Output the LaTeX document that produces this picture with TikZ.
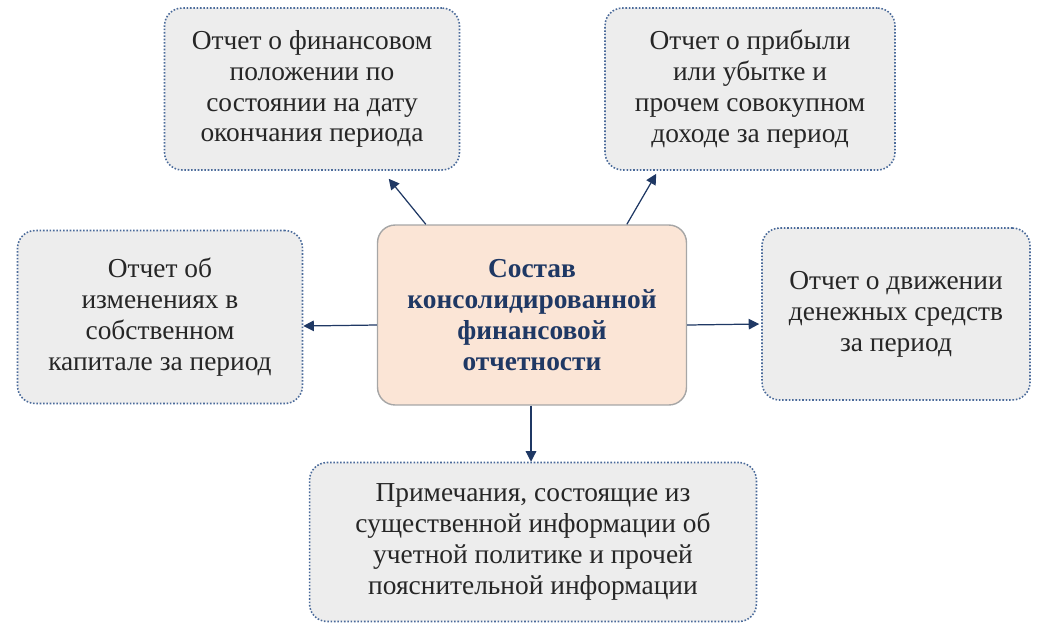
\documentclass[tikz,border=0pt]{standalone}
\usepackage{fontspec}
\setmainfont{Liberation Serif}
\usetikzlibrary{calc,arrows.meta}
\definecolor{navy}{HTML}{1F3864}
\definecolor{bord}{HTML}{4A6A9A}
\definecolor{gfill}{HTML}{EDEDED}
\definecolor{peach}{HTML}{FBE5D6}
\tikzset{
 box/.style={draw=bord,densely dotted,line width=0.9pt,fill=gfill,rounded corners=10pt,align=center,
   font=\fontsize{15.6}{17.6}\selectfont,inner sep=2pt,text=black!85},
 cbox/.style={draw=gray!70,line width=0.8pt,fill=peach,rounded corners=10pt,align=center,
   font=\bfseries\fontsize{15.6}{17.6}\selectfont,text=navy},
 arr/.style={draw=navy,line width=0.7pt,-{Triangle[length=6pt,width=6pt]}}
}
\begin{document}
\begin{tikzpicture}[x=0.02cm,y=-0.02cm]
\useasboundingbox (0,0) rectangle (1051,630);
\node[cbox,minimum width=6.18cm,minimum height=3.6cm] (c) at (532,315) {Состав\\консолидированной\\финансовой\\отчетности};
\node[box,minimum width=5.9cm,minimum height=3.24cm] (tl) at (312,89) {Отчет о финансовом\\положении по\\состоянии на дату\\окончания периода};
\node[box,minimum width=5.8cm,minimum height=3.24cm] (tr) at (750,89) {Отчет о прибыли\\или убытке и\\прочем совокупном\\доходе за период};
\node[box,minimum width=5.7cm,minimum height=3.46cm] (l) at (160,317) {Отчет об\\изменениях в\\собственном\\капитале за период};
\node[box,minimum width=5.36cm,minimum height=3.44cm] (r) at (896,314) {Отчет о движении\\денежных средств\\за период};
\node[box,minimum width=8.94cm,minimum height=3.18cm] (b) at (533,542) {Примечания, состоящие из\\существенной информации об\\учетной политике и прочей\\пояснительной информации};
\coordinate (a1) at ($(c.north west)+(49,0)$);
\coordinate (a2) at ($(c.north west)+(250,0)$);
\draw[arr] (a1) -- ($(tl.south west)+(225,8)$);
\draw[arr] (a2) -- ($(tr.south west)+(52,3)$);
\draw[arr] ($(c.west)+(0,10)$) -- ($(l.east)+(0,9)$);
\draw[arr] ($(c.east)+(0,10)$) -- ($(r.west)+(-2,10)$);
\draw[arr] (c.south -| 531,0) -- (b.north -| 531,0);
\end{tikzpicture}
\end{document}
